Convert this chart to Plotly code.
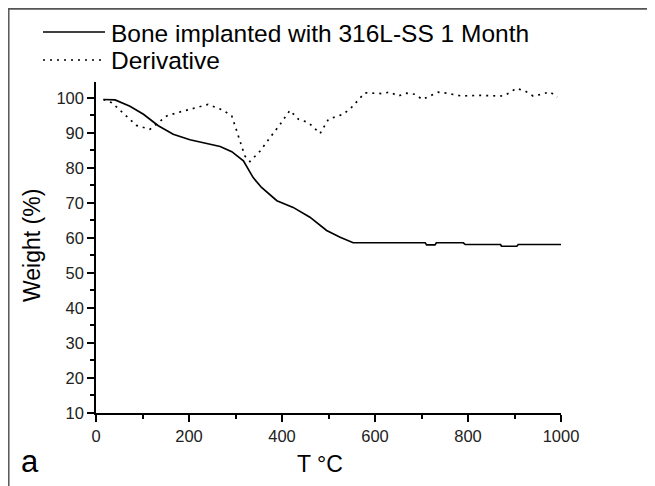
import plotly.graph_objects as go

# ---- data ----
weight_T = [16, 41, 73, 102, 134, 166, 202, 238, 267, 292, 317, 338, 356, 389, 424, 460,
            496, 525, 553, 600, 650, 708, 711, 729, 732, 790, 794, 870, 872, 905, 908, 1000]
weight = [99.5, 99.4, 97.6, 95.3, 92.0, 89.6, 88.0, 86.9, 86.1, 84.6, 82.0, 77.2, 74.4, 70.6,
          68.7, 65.9, 62.1, 60.2, 58.6, 58.6, 58.6, 58.6, 58.0, 58.0, 58.6, 58.6, 58.1, 58.1,
          57.6, 57.6, 58.1, 58.1]

deriv_T = [16, 34, 52, 70, 87, 116, 134, 152, 174, 206, 241, 274, 292, 299, 310, 320, 331,
           353, 374, 396, 417, 435, 457, 482, 500, 532, 550, 564, 578, 614, 632, 650, 668,
           686, 702, 718, 736, 754, 786, 822, 858, 876, 889, 904, 923, 940, 958, 976, 992]
deriv = [99.5, 98.6, 96.4, 94.3, 92.1, 91.0, 92.9, 94.8, 95.7, 96.9, 98.1, 96.4, 94.8, 92.0,
         87.7, 83.4, 81.8, 84.8, 88.6, 92.4, 96.4, 93.9, 92.9, 89.8, 93.9, 95.3, 97.3, 99.3,
         101.4, 101.2, 101.6, 100.5, 101.3, 101.0, 99.5, 100.5, 101.6, 101.3, 100.5, 100.7,
         100.5, 100.5, 101.4, 102.7, 101.9, 100.5, 101.0, 101.7, 100.2]

series_names = ["Bone implanted with 316L-SS 1 Month", "Derivative"]
x_title = "T °C"
y_title = "Weight (%)"
panel_label = "a"

# ---- layout geometry (pixels, in page coordinates; page body adds an 8px offset) ----
W, H = 655, 486
OFF = 8
PLOT_X0, PLOT_X1 = 96, 561
PLOT_Y0, PLOT_Y1 = 82, 413
L = PLOT_X0 - OFF
T = PLOT_Y0 - OFF
R = W - (PLOT_X1 - OFF)
B = H - (PLOT_Y1 - OFF)
PW, PH = W - L - R, H - T - B


def px(x):
    return (x - OFF - L) / PW


def py(y):
    return (H - B - (y - OFF)) / PH


DOT = "2px,5px"

fig = go.Figure()
fig.add_trace(go.Scatter(x=weight_T, y=weight, mode="lines", name=series_names[0],
                         line=dict(color="black", width=1.7), showlegend=False))
fig.add_trace(go.Scatter(x=deriv_T, y=deriv, mode="lines", name=series_names[1],
                         line=dict(color="black", width=1.7, dash=DOT), showlegend=False))

shapes = [
    # outer frame (left and top edges)
    dict(type="line", xref="paper", yref="paper", x0=px(8.8), x1=px(8.8), y0=py(8), y1=py(500),
         line=dict(color="#555555", width=1.5)),
    dict(type="line", xref="paper", yref="paper", x0=px(8), x1=px(670), y0=py(8.8), y1=py(8.8),
         line=dict(color="#555555", width=2)),
    # legend samples
    dict(type="line", xref="paper", yref="paper", x0=px(43), x1=px(105), y0=py(32), y1=py(32),
         line=dict(color="black", width=1.7)),
    dict(type="line", xref="paper", yref="paper", x0=px(43), x1=px(102), y0=py(60), y1=py(60),
         line=dict(color="black", width=1.7, dash=DOT)),
]

font_family = "Arial, Liberation Sans, sans-serif"
annotations = [
    dict(text=series_names[0], xref="paper", yref="paper", x=px(109), y=py(33),
         xanchor="left", yanchor="middle", showarrow=False,
         font=dict(family=font_family, size=24.5, color="black")),
    dict(text=series_names[1], xref="paper", yref="paper", x=px(109), y=py(61),
         xanchor="left", yanchor="middle", showarrow=False,
         font=dict(family=font_family, size=24.5, color="black")),
    dict(text=y_title, xref="paper", yref="paper", x=px(32), y=py(246), textangle=-90,
         xanchor="center", yanchor="middle", showarrow=False,
         font=dict(family=font_family, size=23, color="black")),
    dict(text=x_title, xref="paper", yref="paper", x=px(320), y=py(464),
         xanchor="center", yanchor="middle", showarrow=False,
         font=dict(family=font_family, size=23, color="black")),
    dict(text=panel_label, xref="paper", yref="paper", x=px(30), y=py(461),
         xanchor="center", yanchor="middle", showarrow=False,
         font=dict(family=font_family, size=31, color="black")),
]

axis_common = dict(showgrid=False, zeroline=False, showline=True, linecolor="black",
                   linewidth=1.5, ticks="outside", ticklen=7, tickwidth=1.5, tickcolor="black",
                   tickfont=dict(family=font_family, size=16.5, color="#222222"),
                   mirror=False)

fig.update_layout(
    width=W, height=H,
    margin=dict(l=L, r=R, t=T, b=B, pad=0),
    paper_bgcolor="white", plot_bgcolor="white",
    shapes=shapes, annotations=annotations, showlegend=False,
    xaxis=dict(range=[0, 1000], tickmode="linear", tick0=0, dtick=200,
               minor=dict(dtick=100, ticks="outside", ticklen=4, tickwidth=1.5, tickcolor="black"),
               **axis_common),
    yaxis=dict(range=[10, 104.5], tickmode="linear", tick0=10, dtick=10,
               minor=dict(dtick=5, ticks="outside", ticklen=4, tickwidth=1.5, tickcolor="black"),
               **axis_common),
)

fig.write_html("out.html")
